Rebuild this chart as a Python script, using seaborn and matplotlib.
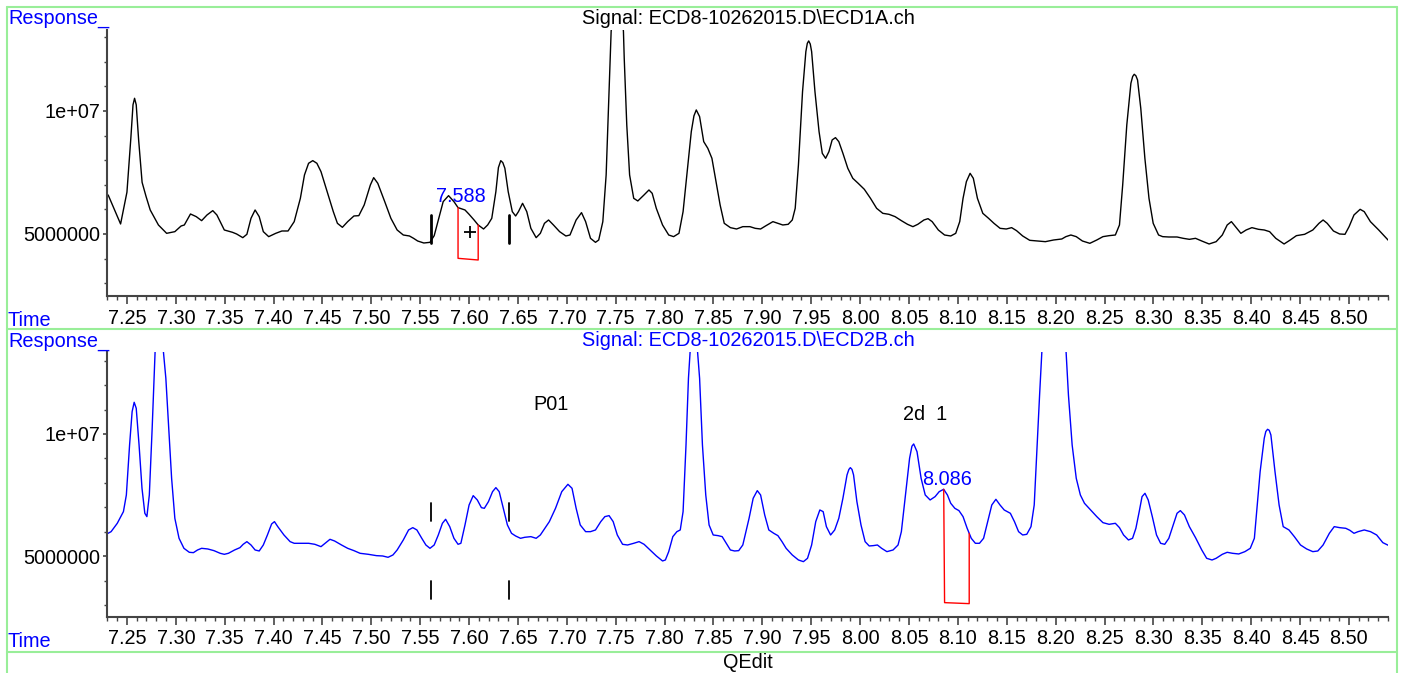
import matplotlib
matplotlib.use("Agg")
import matplotlib.pyplot as plt
import seaborn as sns
import numpy as np
from matplotlib.lines import Line2D
from matplotlib.ticker import FixedLocator, FixedFormatter, MultipleLocator

# ---------------- data (time in min, response in millions) ----------------
top_time = [7.2308, 7.2435, 7.2500, 7.2540, 7.2562, 7.2578, 7.2595, 7.2620, 7.2655, 7.2696,
            7.2738, 7.2822, 7.2906, 7.2990, 7.3054, 7.3087,
            7.3150, 7.3209, 7.3264, 7.3319, 7.3378, 7.3420, 7.3496, 7.3580, 7.3622, 7.3685,
            7.3727, 7.3769, 7.3811, 7.3853, 7.3895, 7.3950, 7.4022, 7.4085, 7.4148, 7.4211,
            7.4274, 7.4316, 7.4358, 7.4401, 7.4443, 7.4485, 7.4548, 7.4611, 7.4653, 7.4704,
            7.4758, 7.4822, 7.4872, 7.4927, 7.4990, 7.5024, 7.5066, 7.5137, 7.5200, 7.5264,
            7.5327, 7.5390, 7.5432, 7.5474, 7.5537, 7.5600, 7.5643, 7.5685, 7.5735, 7.5790,
            7.5845, 7.5887, 7.5958, 7.6000, 7.6051, 7.6093, 7.6148, 7.6190, 7.6232, 7.6274,
            7.6300, 7.6324, 7.6345, 7.6366, 7.6400, 7.6442, 7.6476, 7.6505, 7.6547, 7.6590,
            7.6632, 7.6686,
            7.6729, 7.6771, 7.6813, 7.6863, 7.6926, 7.6990, 7.7032, 7.7095, 7.7150, 7.7192,
            7.7242, 7.7293, 7.7326, 7.7368, 7.7402, 7.7431, 7.7453, 7.7516, 7.7579, 7.7587,
            7.7613, 7.7642, 7.7684, 7.7726, 7.7789, 7.7840, 7.7873, 7.7915, 7.7979, 7.8042,
            7.8092, 7.8147, 7.8189, 7.8231, 7.8273, 7.8300, 7.8324, 7.8358, 7.8400, 7.8442,
            7.8484,
            7.8526, 7.8568, 7.8610, 7.8673, 7.8736, 7.8800, 7.8873, 7.8927, 7.8982, 7.9032,
            7.9108, 7.9159, 7.9209, 7.9264, 7.9306, 7.9336, 7.9369, 7.9411, 7.9445, 7.9460,
            7.9474, 7.9490,
            7.9504, 7.9538, 7.9580, 7.9613, 7.9647, 7.9681, 7.9714, 7.9748, 7.9782, 7.9824,
            7.9874, 7.9925, 7.9980, 8.0043, 8.0106, 8.0169, 8.0232, 8.0295, 8.0358, 8.0422,
            8.0485, 8.0540, 8.0590, 8.0653, 8.0695, 8.0737, 8.0800, 8.0864, 8.0927, 8.0978,
            8.1019, 8.1053, 8.1087, 8.1125, 8.1158, 8.1200, 8.1255, 8.1314, 8.1369, 8.1432,
            8.1495, 8.1550, 8.1600, 8.1663, 8.1735, 8.1811, 8.1895, 8.1979, 8.2063, 8.2105,
            8.2156, 8.2211, 8.2274, 8.2350, 8.2421, 8.2484, 8.2547, 8.2611, 8.2653, 8.2686,
            8.2728, 8.2770, 8.2788, 8.2804, 8.2821, 8.2838, 8.2871, 8.2913, 8.2955, 8.2998,
            8.3053, 8.3095,
            8.3158, 8.3242, 8.3305, 8.3368, 8.3431, 8.3495, 8.3570, 8.3642, 8.3705, 8.3755,
            8.3798, 8.3840, 8.3895, 8.3949, 8.4008, 8.4075, 8.4134, 8.4189, 8.4252, 8.4337,
            8.4400, 8.4463, 8.4547, 8.4631, 8.4694, 8.4736, 8.4778, 8.4842, 8.4905, 8.4960,
            8.5002, 8.5052, 8.5115, 8.5157, 8.5220, 8.5305, 8.5410]
top_response = [6.585, 5.407, 6.700, 8.900, 10.250, 10.515, 10.250, 8.800, 7.100, 6.518,
                5.976, 5.366, 5.027, 5.095, 5.325, 5.366,
                5.813, 5.705, 5.542, 5.773, 5.949, 5.773, 5.163, 5.068, 5.000, 4.851,
                4.987, 5.637, 5.976, 5.705, 5.095, 4.892, 5.027, 5.122, 5.122, 5.502,
                6.450, 7.399, 7.873, 7.981, 7.873, 7.534, 6.721, 5.908, 5.434, 5.271,
                5.502, 5.732, 5.745, 6.179, 6.992, 7.290, 7.060, 6.315, 5.637, 5.163,
                4.959, 4.919, 4.824, 4.715, 4.634, 4.661, 4.932, 5.569, 6.315, 6.558,
                6.315, 6.071, 5.976, 5.800, 5.569, 5.366, 5.203, 5.366, 5.637, 6.721,
                7.700, 7.981, 7.900, 7.670, 6.721, 5.908, 5.732, 5.908, 6.247, 5.908,
                5.230, 4.851,
                5.027, 5.434, 5.569, 5.366, 5.095, 4.919, 4.959, 5.569, 5.868, 5.502,
                4.824, 4.661, 4.756, 5.502, 7.399, 10.786, 13.225, 16.500, 13.225, 12.141,
                9.431, 7.399, 6.450, 6.342, 6.585, 6.789, 6.653, 6.043, 5.366, 4.959,
                4.892, 5.027, 5.908, 7.534, 9.160, 9.800, 10.041, 9.770, 8.754, 8.482,
                8.076,
                7.127, 6.179, 5.434, 5.258, 5.203, 5.298, 5.298, 5.230, 5.203, 5.325,
                5.502, 5.434, 5.366, 5.393, 5.569, 6.043, 7.805, 10.786, 12.412, 12.750,
                12.846, 12.720,
                12.412, 10.786, 9.160, 8.279, 8.076, 8.347, 8.822, 8.916, 8.754, 8.279,
                7.670, 7.263, 7.060, 6.816, 6.450, 6.043, 5.840, 5.800, 5.705, 5.542,
                5.393, 5.298, 5.393, 5.569, 5.623, 5.502, 5.163, 4.959, 4.919, 5.027,
                5.502, 6.450, 7.127, 7.466, 7.263, 6.450, 5.840, 5.637, 5.434, 5.230,
                5.203, 5.258, 5.136, 4.919, 4.743, 4.715, 4.688, 4.756, 4.797, 4.892,
                4.959, 4.892, 4.715, 4.621, 4.756, 4.892, 4.932, 4.959, 5.366, 6.992,
                9.431, 11.125, 11.400, 11.491, 11.430, 11.260, 10.109, 8.076, 6.450, 5.434,
                4.959, 4.892,
                4.878, 4.878, 4.824, 4.783, 4.824, 4.715, 4.594, 4.688, 4.959, 5.366,
                5.502, 5.298, 5.027, 5.163, 5.258, 5.190, 5.163, 5.095, 4.824, 4.594,
                4.756, 4.932, 4.987, 5.163, 5.434, 5.569, 5.434, 5.122, 5.000, 4.987,
                5.298, 5.773, 6.003, 5.908, 5.502, 5.163, 4.715]

bottom_time = [7.2275, 7.2338, 7.2401, 7.2464, 7.2494, 7.2527, 7.2553, 7.2574, 7.2595, 7.2624,
               7.2654, 7.2683, 7.2704, 7.2729, 7.2758, 7.2788, 7.2830, 7.2873, 7.2898, 7.2927,
               7.2957, 7.2990, 7.3033, 7.3083, 7.3138, 7.3180, 7.3222, 7.3264, 7.3327, 7.3390,
               7.3454, 7.3496, 7.3538, 7.3601, 7.3656, 7.3689, 7.3727, 7.3769, 7.3811, 7.3853,
               7.3895, 7.3937, 7.3980, 7.4009, 7.4043, 7.4106, 7.4169, 7.4211, 7.4274, 7.4359,
               7.4422, 7.4485, 7.4527, 7.4577, 7.4624, 7.4695, 7.4758, 7.4822, 7.4885, 7.4969,
               7.5053, 7.5116, 7.5171, 7.5221, 7.5264, 7.5327, 7.5381, 7.5424, 7.5466, 7.5516,
               7.5558, 7.5600, 7.5643, 7.5685, 7.5727, 7.5760, 7.5802, 7.5845, 7.5887, 7.5916,
               7.5958, 7.6000, 7.6042, 7.6084, 7.6126, 7.6156, 7.6198, 7.6240, 7.6274, 7.6308,
               7.6350, 7.6392, 7.6434, 7.6476, 7.6526, 7.6569, 7.6632, 7.6686, 7.6729, 7.6779,
               7.6821, 7.6884, 7.6948, 7.7011, 7.7053, 7.7095, 7.7137, 7.7192, 7.7242, 7.7293,
               7.7347, 7.7389, 7.7432, 7.7474, 7.7516, 7.7570, 7.7621, 7.7684, 7.7739, 7.7790,
               7.7852, 7.7916, 7.7979, 7.8008, 7.8042, 7.8084, 7.8126, 7.8160, 7.8189, 7.8219,
               7.8244, 7.8261, 7.8299, 7.8337, 7.8358, 7.8387, 7.8421, 7.8455, 7.8497, 7.8547,
               7.8589, 7.8631, 7.8673, 7.8716, 7.8758, 7.8800, 7.8864, 7.8906, 7.8948, 7.8982,
               7.9024, 7.9066, 7.9117, 7.9159, 7.9201, 7.9243, 7.9306, 7.9369, 7.9420, 7.9462,
               7.9504, 7.9546, 7.9588, 7.9622, 7.9655, 7.9698, 7.9740, 7.9782, 7.9824, 7.9866,
               7.9885, 7.9900, 7.9917, 7.9933, 7.9967, 8.0009, 8.0051, 8.0093, 8.0135, 8.0177,
               8.0220, 8.0274,
               8.0337, 8.0388, 8.0422, 8.0464, 8.0506, 8.0530, 8.0548, 8.0582, 8.0624, 8.0666,
               8.0716,
               8.0767, 8.0809, 8.0855, 8.0893, 8.0927, 8.0969, 8.1011, 8.1053, 8.1095, 8.1116,
               8.1137, 8.1179, 8.1221, 8.1263, 8.1305, 8.1347, 8.1389, 8.1431, 8.1474, 8.1537,
               8.1579, 8.1621, 8.1663, 8.1705, 8.1748, 8.1781, 8.1811, 8.1836, 8.1861, 8.1983,
               8.2105, 8.2131, 8.2169, 8.2211, 8.2253, 8.2295, 8.2358, 8.2421, 8.2484, 8.2547,
               8.2611, 8.2653, 8.2695, 8.2745, 8.2787, 8.2821, 8.2855, 8.2884, 8.2914, 8.2947,
               8.2989, 8.3032, 8.3074, 8.3116, 8.3158, 8.3208, 8.3242, 8.3276, 8.3318, 8.3368,
               8.3431, 8.3495, 8.3545, 8.3600, 8.3642, 8.3705, 8.3755, 8.3810, 8.3873, 8.3936,
               8.3991, 8.4033, 8.4063, 8.4092, 8.4134, 8.4150, 8.4168, 8.4185, 8.4202, 8.4244,
               8.4286, 8.4328,
               8.4387, 8.4442, 8.4505, 8.4568, 8.4631, 8.4682, 8.4736, 8.4800, 8.4850, 8.4905,
               8.4968, 8.5010, 8.5052, 8.5094, 8.5157, 8.5221, 8.5284, 8.5347, 8.5410]
bottom_response = [5.872, 6.008, 6.349, 6.826, 7.507, 9.551, 10.913, 11.295, 11.050, 9.551,
                   7.780, 6.758, 6.622, 7.507, 10.232, 13.366, 15.000, 13.366, 12.276, 10.232,
                   8.188, 6.553, 5.736, 5.327, 5.164, 5.150, 5.259, 5.327, 5.300, 5.232,
                   5.123, 5.082, 5.123, 5.259, 5.354, 5.491, 5.599, 5.463, 5.259, 5.218,
                   5.463, 5.872, 6.322, 6.417, 6.213, 5.872, 5.600, 5.532, 5.532, 5.532,
                   5.491, 5.395, 5.532, 5.695, 5.627, 5.463, 5.327, 5.232, 5.123, 5.082,
                   5.027, 5.014, 4.960, 5.055, 5.259, 5.668, 6.077, 6.172, 6.077, 5.736,
                   5.463, 5.327, 5.463, 5.872, 6.349, 6.513, 6.213, 5.736, 5.491, 5.532,
                   6.281, 7.098, 7.480, 7.303, 6.989, 6.962, 7.235, 7.643, 7.807, 7.643,
                   6.962, 6.281, 5.940, 5.831, 5.736, 5.777, 5.804, 5.736, 5.872, 6.172,
                   6.417, 6.962, 7.643, 7.943, 7.780, 6.962, 6.281, 6.008, 6.008, 6.077,
                   6.417, 6.622, 6.663, 6.417, 5.872, 5.491, 5.463, 5.532, 5.600, 5.491,
                   5.259, 5.014, 4.810, 4.851, 5.191, 5.804, 6.008, 6.077, 6.826, 9.551,
                   12.276, 13.366, 15.000, 13.366, 12.276, 9.551, 7.507, 6.281, 5.872, 5.845,
                   5.804, 5.532, 5.259, 5.218, 5.232, 5.463, 6.553, 7.371, 7.684, 7.507,
                   6.690, 6.077, 5.940, 5.845, 5.600, 5.327, 5.055, 4.850, 4.782, 4.919,
                   5.463, 6.417, 6.894, 6.826, 6.213, 5.872, 6.077, 6.553, 7.371, 8.325,
                   8.550, 8.624, 8.550, 8.325, 7.235, 6.281, 5.600, 5.423, 5.437, 5.463,
                   5.327, 5.191,
                   5.259, 5.463, 6.008, 7.507, 9.006, 9.500, 9.592, 9.278, 8.188, 7.507,
                   7.303,
                   7.439, 7.643, 7.739, 7.507, 7.167, 6.962, 6.867, 6.622, 6.145, 5.940,
                   5.736, 5.532, 5.532, 5.736, 6.417, 7.098, 7.330, 7.098, 6.894, 6.758,
                   6.417, 6.008, 5.872, 5.900, 6.213, 7.098, 9.551, 11.594, 13.502, 22.000,
                   13.502, 11.594, 9.551, 8.188, 7.507, 7.167, 6.894, 6.622, 6.376, 6.308,
                   6.349, 6.172, 5.872, 5.668, 5.736, 6.145, 6.826, 7.439, 7.575, 7.303,
                   6.622, 5.872, 5.532, 5.491, 5.736, 6.349, 6.758, 6.867, 6.690, 6.213,
                   5.763, 5.259, 4.919, 4.850, 4.919, 5.082, 5.164, 5.123, 5.096, 5.191,
                   5.327, 5.736, 7.098, 8.461, 9.823, 10.100, 10.191, 10.150, 9.960, 8.461,
                   7.098, 6.213,
                   6.077, 5.804, 5.463, 5.300, 5.191, 5.218, 5.463, 5.940, 6.213, 6.172,
                   6.145, 6.063, 5.940, 6.008, 6.077, 6.008, 5.872, 5.559, 5.436]

# integration boxes (red) and event marks
top_box_time = [7.5887, 7.5887, 7.6093, 7.6093]
top_box_resp = [6.071, 4.011, 3.943, 5.366]
bottom_box_time = [8.0855, 8.0864, 8.1116, 8.1116]
bottom_box_resp = [7.739, 3.107, 3.066, 5.940]
mark_times = [7.5612, 7.6412]
top_mark_range = [4.62, 5.77]
bottom_mark_upper = [6.445, 7.194]
bottom_mark_lower = [3.257, 3.992]
plus_point = (7.6008, 5.095)

xtick_major = [7.25, 7.30, 7.35, 7.40, 7.45, 7.50, 7.55, 7.60, 7.65, 7.70, 7.75, 7.80, 7.85,
               7.90, 7.95, 8.00, 8.05, 8.10, 8.15, 8.20, 8.25, 8.30, 8.35, 8.40, 8.45, 8.50]
xtick_labels = ["7.25", "7.30", "7.35", "7.40", "7.45", "7.50", "7.55", "7.60", "7.65",
                "7.70", "7.75", "7.80", "7.85", "7.90", "7.95", "8.00", "8.05", "8.10",
                "8.15", "8.20", "8.25", "8.30", "8.35", "8.40", "8.45", "8.50"]
ytick_major = [5e6, 1e7]
ytick_labels = ["5000000", "1e+07"]

top_title = "Signal: ECD8-10262015.D\\ECD1A.ch"
bottom_title = "Signal: ECD8-10262015.D\\ECD2B.ch"

# ---------------- styling ----------------
sns.set_theme(style="white")
plt.rcParams["font.family"] = ["Liberation Sans", "DejaVu Sans"]
FS = 14.3
AXC = "#444444"
BLUE = "#0000ff"
GREEN = "#99ee99"

W, H = 1401, 673
fig = plt.figure(figsize=(W / 100, H / 100), dpi=100)
fig.patch.set_facecolor("white")

def fx(px):
    return px / W

def fy(py):
    return 1 - py / H

ax_top = fig.add_axes([fx(107), fy(296), fx(1388) - fx(107), fy(30) - fy(296)])
ax_bot = fig.add_axes([fx(107), fy(617), fx(1388) - fx(107), fy(352) - fy(617)])

M = 1e6

def style_axis(ax, ylim):
    ax.set_xlim(7.2296, 8.540)
    ax.set_ylim(*ylim)
    ax.set_facecolor("white")
    for s in ["top", "right"]:
        ax.spines[s].set_visible(False)
    for s in ["left", "bottom"]:
        ax.spines[s].set_color(AXC)
        ax.spines[s].set_linewidth(1.5)
    ax.xaxis.set_major_locator(FixedLocator(xtick_major))
    ax.xaxis.set_major_formatter(FixedFormatter(xtick_labels))
    ax.xaxis.set_minor_locator(MultipleLocator(0.01))
    ax.yaxis.set_major_locator(FixedLocator(ytick_major))
    ax.yaxis.set_major_formatter(FixedFormatter(ytick_labels))
    ax.yaxis.set_minor_locator(MultipleLocator(1e6))
    ax.tick_params(axis="x", which="major", length=6, width=1.2, color=AXC,
                   direction="out", pad=3, labelsize=FS, labelcolor="black", bottom=True)
    ax.tick_params(axis="x", which="minor", length=3, width=1.0, color=AXC,
                   direction="out", bottom=True)
    ax.tick_params(axis="y", which="major", length=3, width=1.2, color=AXC,
                   direction="out", pad=2, labelsize=FS, labelcolor="black", left=True)
    ax.tick_params(axis="y", which="minor", length=2, width=1.0, color=AXC,
                   direction="out", left=True)
    ax.set_xlabel("")
    ax.set_ylabel("")
    ax.grid(False)

# traces
sns.lineplot(x=top_time, y=np.array(top_response) * M, ax=ax_top, color="black",
             linewidth=1.0, estimator=None, sort=False, solid_joinstyle="round")
sns.lineplot(x=bottom_time, y=np.array(bottom_response) * M, ax=ax_bot, color=BLUE,
             linewidth=1.0, estimator=None, sort=False, solid_joinstyle="round")

# integration boxes
ax_top.plot(top_box_time, np.array(top_box_resp) * M, color="red", lw=1.0)
ax_bot.plot(bottom_box_time, np.array(bottom_box_resp) * M, color="red", lw=1.0)

# event marks
for t in mark_times:
    ax_top.plot([t, t], np.array(top_mark_range) * M, color="black", lw=2.0)
    ax_bot.plot([t, t], np.array(bottom_mark_upper) * M, color="black", lw=1.3)
    ax_bot.plot([t, t], np.array(bottom_mark_lower) * M, color="black", lw=1.3)
ax_top.plot([plus_point[0]], [plus_point[1] * M], marker="+", color="black",
            markersize=9, mew=1.3)

style_axis(ax_top, (2.48 * M, 13.29 * M))
style_axis(ax_bot, (2.52 * M, 13.35 * M))

# annotations
ax_top.text(7.5916, 6.518 * M, "7.588", color=BLUE, fontsize=FS, ha="center", va="center")
ax_bot.text(8.0885, 8.148 * M, "8.086", color=BLUE, fontsize=FS, ha="center", va="center")
ax_bot.text(7.6842, 11.213 * M, "P01", color="black", fontsize=FS, ha="center", va="center")
ax_bot.text(8.0662, 10.777 * M, "2d  1", color="black", fontsize=FS, ha="center", va="center")

# panel labels and titles
fig.text(fx(8), fy(9), "Response_", color=BLUE, fontsize=FS, ha="left", va="top")
fig.text(fx(8), fy(326), "Time", color=BLUE, fontsize=FS, ha="left", va="baseline")
fig.text(fx(8), fy(332), "Response_", color=BLUE, fontsize=FS, ha="left", va="top")
fig.text(fx(8), fy(647), "Time", color=BLUE, fontsize=FS, ha="left", va="baseline")
fig.text(fx(748), fy(19), top_title, color="black", fontsize=FS, ha="center", va="center")
fig.text(fx(748), fy(341), bottom_title, color=BLUE, fontsize=FS, ha="center", va="center")
fig.text(fx(748), fy(663), "QEdit", color="black", fontsize=FS, ha="center", va="center")

# green frame
frame_lines = [
    ([fx(7), fx(1397)], [fy(7), fy(7)]),
    ([fx(7), fx(1397)], [fy(329), fy(329)]),
    ([fx(7), fx(1397)], [fy(652), fy(652)]),
    ([fx(7), fx(7)], [fy(7), fy(673)]),
    ([fx(1397), fx(1397)], [fy(7), fy(673)]),
]
for xs, ys in frame_lines:
    fig.add_artist(Line2D(xs, ys, color=GREEN, lw=1.5, transform=fig.transFigure))

fig.savefig("out.png", dpi=100, facecolor="white")
